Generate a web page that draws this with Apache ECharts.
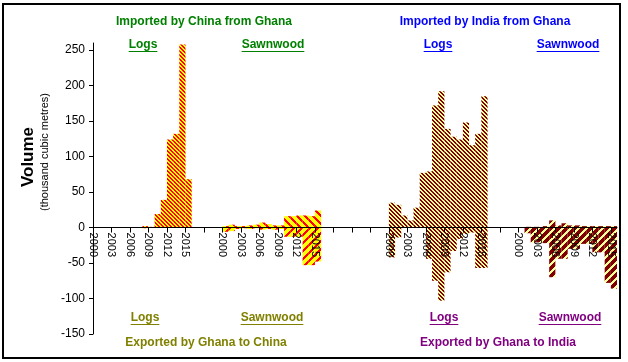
<!DOCTYPE html>
<html><head><meta charset="utf-8">
<script src="https://cdn.jsdelivr.net/npm/echarts@6/dist/echarts.min.js"></script>
<style>html,body{margin:0;padding:0;background:#fff}#c{width:628px;height:362px}</style>
</head><body><div id="c"></div>
<script>
// ---- data (thousand cubic metres) ----
const years = [2000,2001,2002,2003,2004,2005,2006,2007,2008,2009,2010,2011,2012,2013,2014,2015];
const tickYears = ['2000','2003','2006','2009','2012','2015'];
const yTicks = [-150,-100,-50,0,50,100,150,200,250];
// Imported by China from Ghana / Exported by Ghana to China
const chinaLogsImports = [0,0,0,0,0,0,0,0,2,1,19,39,124,132,258,68];
const chinaLogsExports = [0,0,0,0,0,0,0,0,-1,0,0,0,0,0,0,0];
const chinaSawnImports = [2,4,2,2,3,4,7,5,3,3,16,16,17,17,16,24];
const chinaSawnExports = [-6,-5,-2,-1,-2,-1,-3,-2,-3,-2,-13,-13,-13,-53,-53,-48];
// Imported by India from Ghana / Exported by Ghana to India
const indiaLogsImports = [35,32,17,10,28,77,79,172,192,139,128,124,148,116,132,185];
const indiaLogsExports = [-42,-14,0,0,0,0,-44,-75,-103,-63,-33,-16,-9,-7,-57,-57];
const indiaSawnImports = [0,1,1,1,2,10,3,6,3,3,2,2,2,2,2,2];
const indiaSawnExports = [0,-8,-21,-21,-22,-70,-44,-44,-30,-30,-23,-23,-35,-35,-78,-86];

// ---- layout of the category slots ----
const groupStarts = [0,21,48,69];
const SLOTS = 85;
function place(arr, start){ const d = new Array(SLOTS).fill(null); arr.forEach((v,i)=>{ d[start+i]=v; }); return d; }
const barCats = Array.from({length:SLOTS},(_,i)=>'c'+i);
const tickCats = Array.from({length:SLOTS+1},(_,i)=>'t'+i);
const labelText = new Array(SLOTS+1).fill('');
groupStarts.forEach(s=>tickYears.forEach(t=>{ labelText[s+years.indexOf(Number(t))]=t; }));

function stripes(bg, fg, period, width, dir){
  const c=document.createElement('canvas'); c.width=period; c.height=period;
  const ctx=c.getContext('2d');
  for(let y=0;y<period;y++)for(let x=0;x<period;x++){
    const d = dir==='\\' ? (((x-y)%period)+period)%period : (x+y)%period;
    ctx.fillStyle = d<width?fg:bg; ctx.fillRect(x,y,1,1);
  }
  return {image:c, repeat:'repeat'};
}
const pChinaLogs = stripes('#FFFF00','#FF0000',4,2,'\\');
const pChinaSawnI = stripes('#FFFF00','#FF0000',8,3,'\\');
const pChinaSawnE = stripes('#FFFF00','#FF0000',8,3,'/');
const pIndiaLogs = stripes('#FFFF99','#800000',4,2,'\\');
const pIndiaSawnI = stripes('#FFFF99','#800000',8,5,'/');
const pIndiaSawnE = stripes('#FFFF99','#800000',8,5,'/');

function bar(name, arr, start, pattern){
  return {name, type:'bar', xAxisIndex:0, data:place(arr,start), barGap:'-100%', barCategoryGap:'0%',
    itemStyle:{color:pattern}, emphasis:{disabled:true}, silent:true};
}

const FONT = '"Liberation Sans", Arial, sans-serif';
const mctx = document.createElement('canvas').getContext('2d');
function measure(t, f){ mctx.font=f; return mctx.measureText(t).width; }
function txt(text, cx, cy, color, underline){
  const font = 'bold 12px ' + FONT;
  const els = [{type:'text', x:cx, y:cy, z:20, style:{text, fill:color, font, align:'center', verticalAlign:'middle'}}];
  if(underline){
    const w = measure(text,font); const uy = Math.round(cy+6)+0.5;
    els.push({type:'line', z:20, shape:{x1:cx-w/2, y1:uy, x2:cx+w/2, y2:uy}, style:{stroke:color, lineWidth:1}});
  }
  return els;
}
const green='#008000', blue='#0000FF', olive='#808000', purple='#800080';
const graphics = [].concat(
  [{type:'rect', z:30, shape:{x:3,y:4,width:617,height:354}, style:{fill:'none', stroke:'#000', lineWidth:2}}],
  txt('Imported by China from Ghana',204,22,green,false),
  txt('Logs',143,45,green,true), txt('Sawnwood',273,45,green,true),
  txt('Imported by India from Ghana',485,22,blue,false),
  txt('Logs',438,45,blue,true), txt('Sawnwood',568,45,blue,true),
  txt('Logs',145,318,olive,true), txt('Sawnwood',272,318,olive,true),
  txt('Exported by Ghana to China',206,343,olive,false),
  txt('Logs',444,318,purple,true), txt('Sawnwood',570,318,purple,true),
  txt('Exported by Ghana to India',498,343,purple,false),
  [{type:'text', x:28, y:157, rotation:Math.PI/2, z:20, style:{text:'Volume', fill:'#000', font:'bold 17px '+FONT, align:'center', verticalAlign:'middle'}},
   {type:'text', x:45, y:152, rotation:Math.PI/2, z:20, style:{text:'(thousand cubic metres)', fill:'#000', font:'11px '+FONT, align:'center', verticalAlign:'middle'}}]
);

const chart = echarts.init(document.getElementById('c'), null, {renderer:'canvas'});
const Y_MIN = -150, Y_MAX = 260;
chart.setOption({
  animation:false,
  backgroundColor:'#fff',
  grid:{left:93, right:11, top:43, bottom:28, containLabel:false, outerBoundsMode:'none'},
  xAxis:[
    {type:'category', data:barCats, boundaryGap:true, show:false, position:'bottom', axisLine:{onZero:false}},
    {type:'category', data:tickCats, boundaryGap:false, position:'bottom', z:10, offset:0,
     axisLine:{show:true, onZero:false, lineStyle:{color:'#000', width:1}},
     axisTick:{show:true, interval:2, length:5, lineStyle:{color:'#000'}},
     axisLabel:{interval:2, rotate:-90, margin:5, fontSize:11, fontFamily:FONT, color:'#000',
       formatter:(v,i)=>labelText[i]||''},
     splitLine:{show:false}}
  ],
  yAxis:{type:'value', min:Y_MIN, max:Y_MAX, interval:50,
    axisLine:{show:true, onZero:false, lineStyle:{color:'#000'}},
    axisTick:{show:true, length:4, customValues:yTicks, lineStyle:{color:'#000'}},
    axisLabel:{customValues:yTicks, margin:8, fontSize:12, fontFamily:FONT, color:'#000'},
    splitLine:{show:false}},
  series:[
    bar('China logs imports', chinaLogsImports, groupStarts[0], pChinaLogs),
    bar('China logs exports', chinaLogsExports, groupStarts[0], pChinaLogs),
    bar('China sawnwood imports', chinaSawnImports, groupStarts[1], pChinaSawnI),
    bar('China sawnwood exports', chinaSawnExports, groupStarts[1], pChinaSawnE),
    bar('India logs imports', indiaLogsImports, groupStarts[2], pIndiaLogs),
    bar('India logs exports', indiaLogsExports, groupStarts[2], pIndiaLogs),
    bar('India sawnwood imports', indiaSawnImports, groupStarts[3], pIndiaSawnI),
    bar('India sawnwood exports', indiaSawnExports, groupStarts[3], pIndiaSawnE)
  ],
  graphic:graphics
});
// move the labelled category axis up to the value-axis zero line
const yZero = chart.convertToPixel({yAxisIndex:0}, 0);
const yBottom = chart.convertToPixel({yAxisIndex:0}, Y_MIN);
chart.setOption({xAxis:[{}, {offset: -(yBottom - yZero)}]});
</script></body></html>
